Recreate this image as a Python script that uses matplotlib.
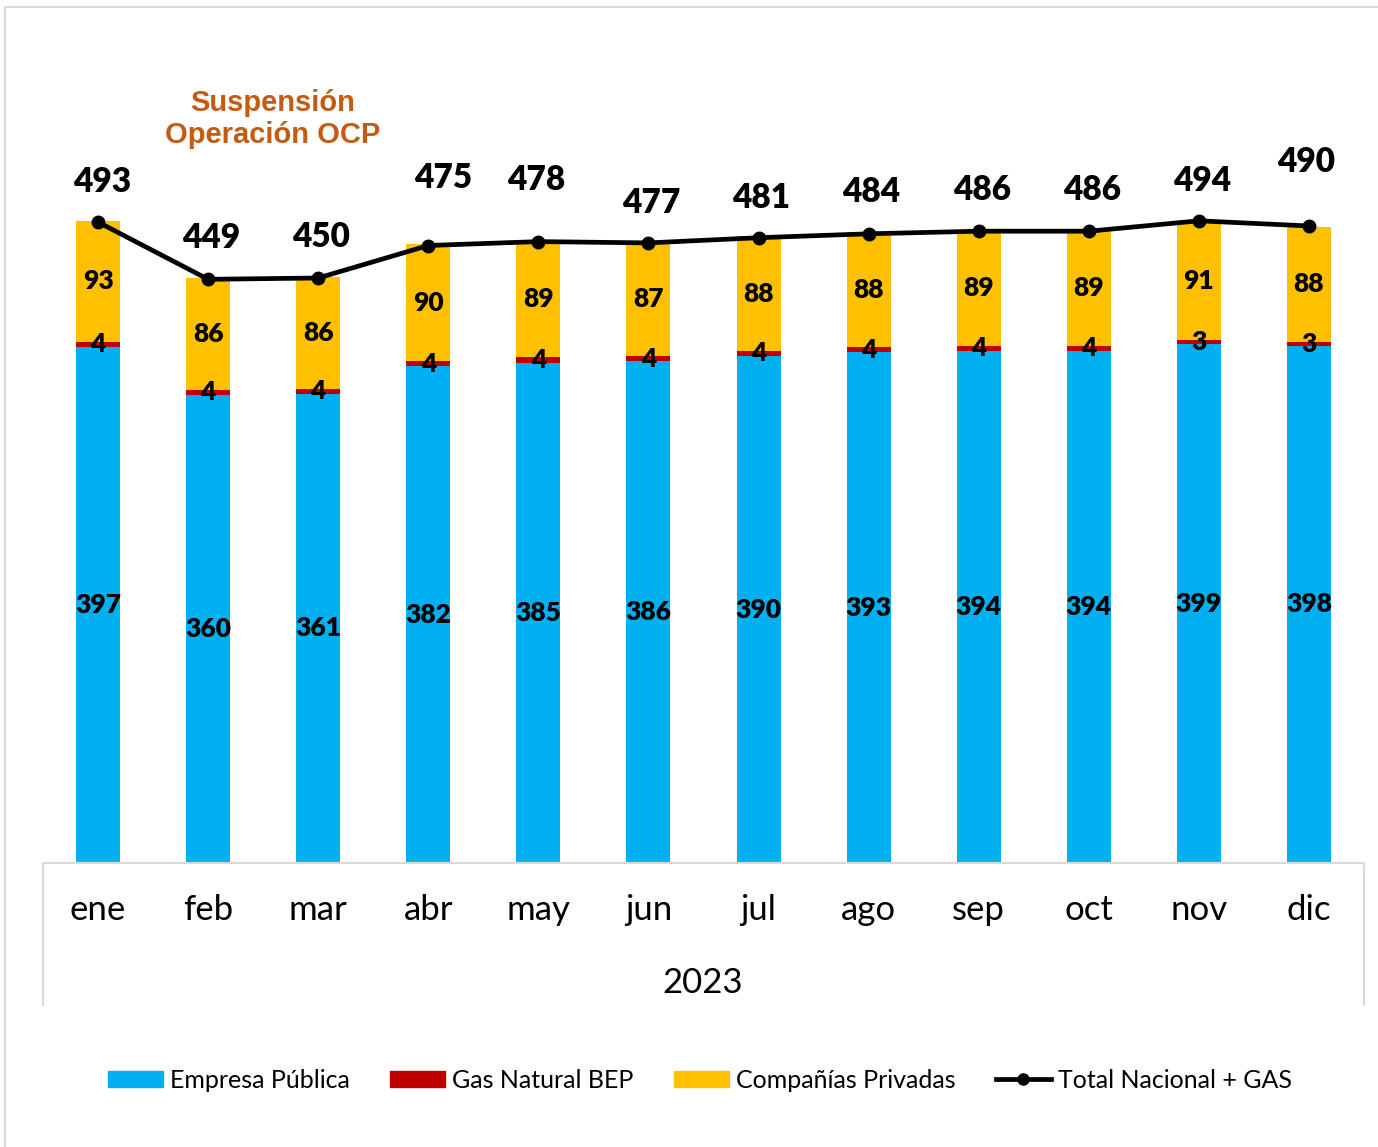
import matplotlib
matplotlib.use("Agg")
import matplotlib.pyplot as plt
from matplotlib.lines import Line2D
from matplotlib.patches import Rectangle, Patch
import numpy as np

months = ["ene", "feb", "mar", "abr", "may", "jun", "jul", "ago", "sep", "oct", "nov", "dic"]
empresa_publica = [397, 360, 361, 382, 385, 386, 390, 393, 394, 394, 399, 398]
gas_natural_bep = [4, 4, 4, 4, 4, 4, 4, 4, 4, 4, 3, 3]
companias_privadas = [93, 86, 86, 90, 89, 87, 88, 88, 89, 89, 91, 88]
total_nacional = [493, 449, 450, 475, 478, 477, 481, 484, 486, 486, 494, 490]
year_label = "2023"
note_text = "Suspensión\nOperación OCP"

# style: total label offsets (pixels) above the point
total_dy_px = [40, 41, 41, 68, 62, 40, 40, 42, 41, 41, 40, 64]
total_dx_px = [4, 3, 3, 15, -2, 3, 3, 3, 3, 3, 3, -3]

C_BLUE = "#00B0F0"
C_RED = "#C00000"
C_YEL = "#FFC000"
C_NOTE = "#C55A11"
C_GRID = "#D9D9D9"

W, H = 1378, 1147
DPI = 100
fig = plt.figure(figsize=(W / DPI, H / DPI), dpi=DPI)
plt.rcParams['font.family'] = ['Lato', 'DejaVu Sans']

def fx(px):
    return px / W

def fy(py):
    return 1 - py / H

# figure border (light gray)
fig.add_artist(Rectangle((fx(5), fy(1200)), 2, fy(7) - fy(1200), transform=fig.transFigure,
                         fill=False, edgecolor=C_GRID, linewidth=1.5))

ax = fig.add_axes([fx(43), fy(863), fx(1364) - fx(43), fy(31) - fy(863)])
x = np.arange(len(months))
ep = np.array(empresa_publica)
gn = np.array(gas_natural_bep)
cp = np.array(companias_privadas)

bw = 0.4
ax.bar(x, ep, bw, color=C_BLUE, label="Empresa Pública", zorder=2)
ax.bar(x, gn, bw, bottom=ep, color=C_RED, label="Gas Natural BEP", zorder=2)
ax.bar(x, cp, bw, bottom=ep + gn, color=C_YEL, label="Compañías Privadas", zorder=2)
ax.plot(x, total_nacional, color="black", linewidth=3.4, marker="o", markersize=9,
        label="Total Nacional + GAS", zorder=4)

ax.set_xlim(-0.5, len(months) - 0.5)
ax.set_ylim(0, 640)
ax.set_yticks([])
for s in ["left", "right", "top"]:
    ax.spines[s].set_visible(False)
ax.spines["bottom"].set_color(C_GRID)
ax.spines["bottom"].set_linewidth(1.5)
ax.spines["bottom"].set_zorder(5)
ax.set_xticks(x)
ax.set_xticklabels(months, fontsize=25)
ax.tick_params(axis="x", length=0, pad=22)

lab_kw = dict(ha="center", va="center", fontsize=19, fontweight="heavy", color="black", zorder=6)
for i in range(len(months)):
    ax.text(x[i], ep[i] / 2, str(ep[i]), **lab_kw)
    ax.text(x[i], ep[i] + gn[i] / 2, str(gn[i]), **lab_kw)
    ax.text(x[i], ep[i] + gn[i] + cp[i] / 2, str(cp[i]), **lab_kw)
    ax.annotate(str(total_nacional[i]), (x[i], total_nacional[i]),
                xytext=(total_dx_px[i] * 0.72, total_dy_px[i] * 0.72), textcoords="offset points",
                ha="center", va="center", fontsize=24, fontweight="heavy", color="black", zorder=6)

# category box lines
for px in (43, 1364):
    fig.add_artist(Line2D([fx(px), fx(px)], [fy(863), fy(1005)], transform=fig.transFigure,
                          color=C_GRID, linewidth=1.5))

fig.text(fx(703), fy(983), year_label, ha="center", va="center", fontsize=25)

fig.text(fx(273), fy(119), note_text, ha="center", va="center", fontsize=21,
         fontweight="bold", color=C_NOTE, family=["Liberation Sans", "DejaVu Sans"],
         linespacing=1.15)

handles = [Patch(color=C_BLUE), Patch(color=C_RED), Patch(color=C_YEL),
           Line2D([0], [0], color="black", linewidth=3.4, marker="o", markersize=8)]
labels = ["Empresa Pública", "Gas Natural BEP", "Compañías Privadas", "Total Nacional + GAS"]
fig.legend(handles, labels, loc="center", bbox_to_anchor=(fx(700), fy(1080)), ncol=4,
           frameon=False, fontsize=18, handlelength=2.2, handleheight=0.6,
           handletextpad=0.3, columnspacing=1.6)

fig.savefig("out.png", dpi=DPI)
